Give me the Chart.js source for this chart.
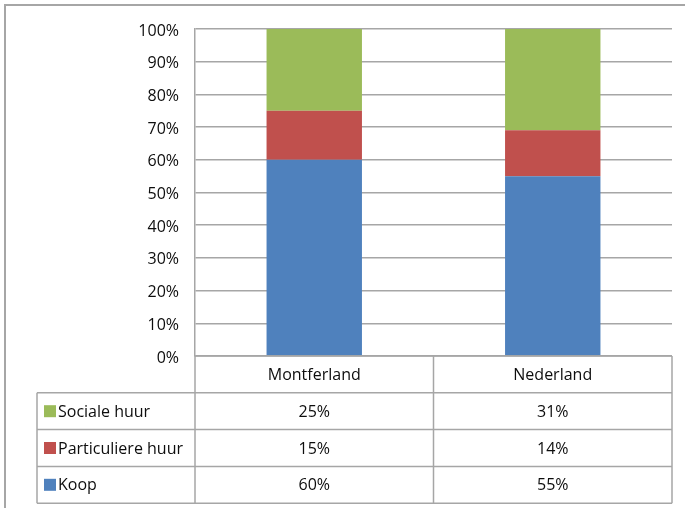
<!DOCTYPE html>
<html>
<head>
<meta charset="utf-8">
<script src="https://cdn.jsdelivr.net/npm/chart.js@4/dist/chart.umd.min.js"></script>
<style>
  html, body { margin: 0; padding: 0; background: #fff; }
  #wrap { position: relative; width: 685px; height: 508px; overflow: hidden; }
  #frame { position: absolute; left: 4px; top: 4px; width: 720px; height: 540px;
           border-top: 2px solid #a6a6a6; border-left: 2px solid #a6a6a6; }
  canvas { position: absolute; left: 0; top: 0; }
</style>
</head>
<body>
<div id="wrap">
  <div id="frame"></div>
  <canvas id="chart" width="685" height="508"></canvas>
</div>
<script>
// data
var categories = ["Montferland", "Nederland"];
var koop = [60, 55];
var particuliereHuur = [15, 14];
var socialeHuur = [25, 31];
var seriesNames = ["Koop", "Particuliere huur", "Sociale huur"];
var seriesColors = ["#4f81bd", "#c0504d", "#9bbb59"];
var yMin = 0, yMax = 100, yStep = 10;

var gridColor = "#a6a6a6";
var textColor = "#0d0d0d";
var fontFamily = "'Open Sans', sans-serif";

// tabel onder de grafiek
var tablePlugin = {
  id: "dataTable",
  afterDraw: function (chart) {
    var ctx = chart.ctx;
    var area = chart.chartArea;
    var xs = chart.scales.x;
    var top = area.bottom;
    var rowH = 36.8;
    var keyLeft = 37;
    var series = chart.data.datasets.slice().reverse();
    var bottom = top + rowH * (series.length + 1);

    var edges = [area.left];
    for (var i = 0; i < categories.length - 1; i++) {
      edges.push((xs.getPixelForValue(i) + xs.getPixelForValue(i + 1)) / 2);
    }
    edges.push(area.right);

    ctx.save();
    ctx.strokeStyle = gridColor;
    ctx.lineWidth = 1.5;
    ctx.beginPath();
    // horizontale lijnen
    ctx.moveTo(area.left, top); ctx.lineTo(area.right, top);
    for (var r = 1; r <= series.length + 1; r++) {
      ctx.moveTo(keyLeft, top + r * rowH); ctx.lineTo(area.right, top + r * rowH);
    }
    // verticale lijnen
    edges.forEach(function (x) { ctx.moveTo(x, top); ctx.lineTo(x, bottom); });
    ctx.moveTo(keyLeft, top + rowH); ctx.lineTo(keyLeft, bottom);
    ctx.stroke();

    ctx.font = "16px " + fontFamily;
    ctx.fillStyle = textColor;
    ctx.textBaseline = "middle";
    ctx.textAlign = "center";
    categories.forEach(function (cat, i) {
      ctx.fillText(cat, (edges[i] + edges[i + 1]) / 2, top + rowH / 2 + 1);
    });

    series.forEach(function (ds, r) {
      var cy = top + (r + 1) * rowH + rowH / 2;
      ctx.fillStyle = ds.backgroundColor;
      ctx.fillRect(keyLeft + 7, cy - 6, 12, 12);
      ctx.fillStyle = textColor;
      ctx.textAlign = "left";
      ctx.fillText(ds.label, keyLeft + 21, cy + 1);
      ctx.textAlign = "center";
      ds.data.forEach(function (v, i) {
        ctx.fillText(v + "%", (edges[i] + edges[i + 1]) / 2, cy + 1);
      });
    });
    ctx.restore();
  }
};

new Chart(document.getElementById("chart").getContext("2d"), {
  type: "bar",
  data: {
    labels: categories,
    datasets: [
      { label: seriesNames[0], data: koop, backgroundColor: seriesColors[0] },
      { label: seriesNames[1], data: particuliereHuur, backgroundColor: seriesColors[1] },
      { label: seriesNames[2], data: socialeHuur, backgroundColor: seriesColors[2] }
    ]
  },
  options: {
    responsive: false,
    animation: false,
    devicePixelRatio: 1,
    layout: { padding: { top: 29, right: 13, bottom: 152, left: 0 } },
    datasets: { bar: { barPercentage: 0.4, categoryPercentage: 1, borderWidth: 0 } },
    plugins: {
      legend: { display: false },
      tooltip: { enabled: false },
      title: { display: false }
    },
    scales: {
      x: {
        stacked: true,
        ticks: { display: false },
        grid: { display: false, drawTicks: false },
        border: { display: false }
      },
      y: {
        stacked: true,
        min: yMin,
        max: yMax,
        ticks: {
          stepSize: yStep,
          padding: 16,
          labelOffset: 2,
          color: textColor,
          font: { family: fontFamily, size: 16 },
          callback: function (v) { return v + "%"; }
        },
        grid: { color: gridColor, lineWidth: 1.5, drawTicks: false },
        border: { display: true, color: gridColor, width: 1.5 },
        afterFit: function (scale) { scale.width = 195; }
      }
    }
  },
  plugins: [tablePlugin]
});
</script>
</body>
</html>
